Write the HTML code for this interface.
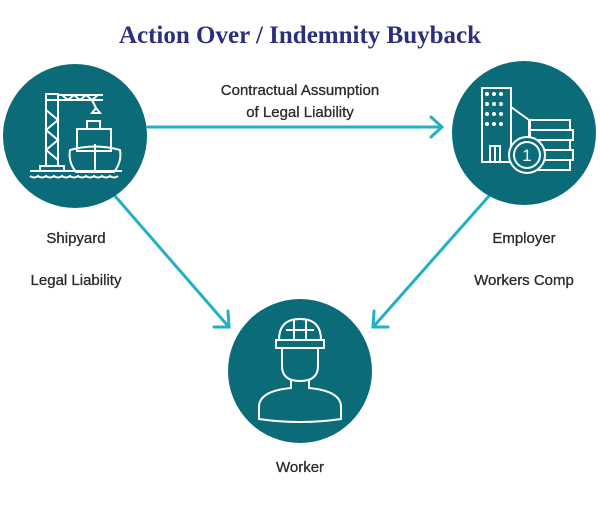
<!DOCTYPE html>
<html><head><style>
body{margin:0;width:600px;height:500px;background:#fff;overflow:hidden}
svg text{font-family:"Liberation Sans",sans-serif;fill:#2a2a2a;font-size:15px;text-anchor:middle;stroke:#2a2a2a;stroke-width:0.3}
</style></head><body>
<svg width="600" height="500" viewBox="0 0 600 500">
<text x="300" y="43" style="font-family:'Liberation Serif',serif;font-weight:bold;font-size:25px;fill:#2b2f7c;stroke:none">Action Over / Indemnity Buyback</text>
<g stroke="#22b0c4" stroke-width="3" fill="none" stroke-linecap="round">
<line x1="148" y1="127" x2="441" y2="127"/><polyline points="431,117 442,127 431,137"/>
<line x1="115" y1="196" x2="228" y2="326"/><polyline points="228,311 229,327 214,327"/>
<line x1="489" y1="196" x2="374" y2="326"/><polyline points="374,311 373,327 388,327"/>
</g>
<circle cx="75" cy="136" r="72" fill="#0c6b79"/>
<circle cx="524" cy="133" r="72" fill="#0c6b79"/>
<circle cx="300" cy="371" r="72" fill="#0c6b79"/>
<g stroke="#fff" stroke-width="2" fill="none">
<rect x="46" y="94" width="12" height="72"/><line x1="46" y1="100" x2="103" y2="100"/><line x1="58" y1="95" x2="103" y2="95"/>
<polyline points="46,110 58,120 46,130 58,140 46,150 58,160"/>
<polyline points="62,95 68,100 74,95 80,100 86,95 92,100 98,95"/>
<path d="M92 100 l4 8 l-4 5 l8 0 l-4 -5"/>
<rect x="40" y="166" width="24" height="5"/><line x1="30" y1="171" x2="122" y2="171"/>
<rect x="87" y="121" width="13" height="8"/><rect x="77" y="129" width="34" height="22"/>
<path d="M70 150 q25 -7 50 0 q2 12 -6 22 h-38 q-8 -10 -6 -22z"/><line x1="95" y1="144" x2="95" y2="172"/>
<path d="M30 176 q4 3 8 0 q4 3 8 0 q4 3 8 0 q4 3 8 0 q4 3 8 0 q4 3 8 0 q4 3 8 0 q4 3 8 0 q4 3 8 0 q4 3 8 0 q4 3 8 0"/>
<rect x="482" y="88" width="29" height="74"/>
<rect x="490" y="146" width="10" height="16"/><line x1="495" y1="146" x2="495" y2="162"/>
<path d="M511 107 l18 13 v40"/>
<rect x="530" y="120" width="40" height="10"/><rect x="530" y="130" width="43" height="10"/><rect x="530" y="140" width="40" height="10"/><rect x="530" y="150" width="43" height="10"/><rect x="530" y="160" width="40" height="10"/>
<circle cx="527" cy="155" r="18" fill="#0c6b79"/><circle cx="527" cy="155" r="13"/>
<path d="M279 340 q0 -21 21 -21 q21 0 21 21"/><rect x="276" y="340" width="48" height="8"/>
<line x1="294" y1="320" x2="294" y2="340"/><line x1="306" y1="320" x2="306" y2="340"/><line x1="286" y1="330" x2="314" y2="330"/>
<path d="M282 348 v18 q0 15 18 15 q18 0 18 -15 v-18"/>
<path d="M291 380 v8 q-32 3 -32 19 v12 q41 6 82 0 v-12 q0 -16 -32 -19 v-8"/>
</g>
<g fill="#fff">
<circle cx="487" cy="94" r="2"/><circle cx="494" cy="94" r="2"/><circle cx="501" cy="94" r="2"/>
<circle cx="487" cy="104" r="2"/><circle cx="494" cy="104" r="2"/><circle cx="501" cy="104" r="2"/>
<circle cx="487" cy="114" r="2"/><circle cx="494" cy="114" r="2"/><circle cx="501" cy="114" r="2"/>
<circle cx="487" cy="124" r="2"/><circle cx="494" cy="124" r="2"/><circle cx="501" cy="124" r="2"/>
<text x="527" y="161" style="fill:#fff;stroke:none;font-size:17px">1</text>
</g>
<text x="300" y="95">Contractual Assumption</text>
<text x="300" y="117">of Legal Liability</text>
<text x="76" y="243">Shipyard</text>
<text x="76" y="285">Legal Liability</text>
<text x="524" y="243">Employer</text>
<text x="524" y="285">Workers Comp</text>
<text x="300" y="472">Worker</text>
</svg>
</body></html>
